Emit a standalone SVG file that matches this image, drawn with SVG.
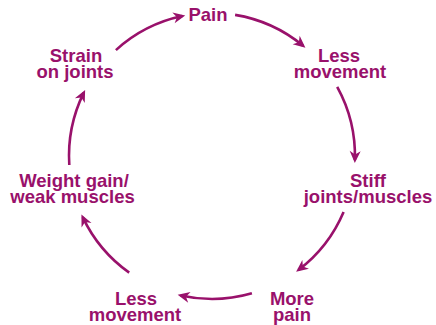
<svg xmlns="http://www.w3.org/2000/svg" width="436" height="325" viewBox="0 0 436 325">
<style>
text{font-family:"Liberation Sans",Arial,sans-serif;font-weight:bold;font-size:18.5px;fill:#99116B;text-anchor:middle}
.c{fill:none;stroke:#99116B;stroke-width:2.6}
</style>
<defs>
<marker id="ah" markerUnits="userSpaceOnUse" markerWidth="20" markerHeight="20" refX="0" refY="0" viewBox="-12 -8 20 16" orient="auto" overflow="visible">
<path d="M3,0 L-9,-5.5 L-5.5,0 L-9,5.5 Z" fill="#99116B"/>
</marker>
</defs>
<rect width="436" height="325" fill="#fff"/>
<g id="connectors">
<path class="c" marker-end="url(#ah)" d="M115.9,50.1 A143,143 0 0 1 182.3,16.1"/>
<path class="c" marker-end="url(#ah)" d="M235.1,14.9 A143,143 0 0 1 303.1,45.8"/>
<path class="c" marker-end="url(#ah)" d="M337.2,86.9 A143,143 0 0 1 354.9,160"/>
<path class="c" marker-end="url(#ah)" d="M343.6,211.9 A143,143 0 0 1 298.5,269.9"/>
<path class="c" marker-end="url(#ah)" d="M251.9,293.3 A143,143 0 0 1 180.6,295.5"/>
<path class="c" marker-end="url(#ah)" d="M129.2,272.6 A143,143 0 0 1 82.7,217.1"/>
<path class="c" marker-end="url(#ah)" d="M69.3,165 A143,143 0 0 1 83.8,92.6"/>
</g>
<g id="pain"><text x="208" y="21">Pain</text></g>
<g id="less-movement-1"><text><tspan x="339" y="62">Less</tspan><tspan x="340" dy="16">movement</tspan></text></g>
<g id="stiff"><text><tspan x="368" y="187">Stiff</tspan><tspan x="368" dy="16">joints/muscles</tspan></text></g>
<g id="more-pain"><text><tspan x="292" y="305">More</tspan><tspan x="292" dy="15.5">pain</tspan></text></g>
<g id="less-movement-2"><text><tspan x="136" y="305">Less</tspan><tspan x="135" dy="15.5">movement</tspan></text></g>
<g id="weight-gain"><text><tspan x="74" y="187">Weight gain/</tspan><tspan x="72.5" dy="15.5">weak muscles</tspan></text></g>
<g id="strain"><text><tspan x="76" y="62">Strain</tspan><tspan x="75" dy="15.5">on joints</tspan></text></g>
</svg>
